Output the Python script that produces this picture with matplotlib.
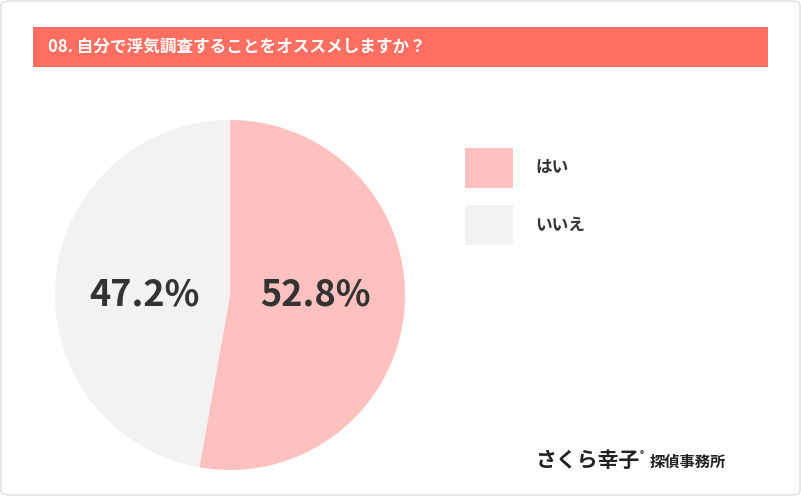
import matplotlib
matplotlib.use("Agg")
import matplotlib.pyplot as plt
from matplotlib.patches import Rectangle, FancyBboxPatch

plt.rcParams['font.family'] = ['Noto Sans CJK JP', 'DejaVu Sans']

title = "08. 自分で浮気調査することをオススメしますか？"
labels = ["はい", "いいえ"]
values = [52.8, 47.2]
colors = ["#FFC1BF", "#F2F2F2"]

W, H = 801, 496
fig = plt.figure(figsize=(W/100, H/100), dpi=100)
fig.patch.set_facecolor("white")

def px(x, y, w, h):
    return [x/W, 1-(y+h)/H, w/W, h/H]

fig.patches.append(FancyBboxPatch((1/W, 1/H), (W-2)/W, (H-2)/H, boxstyle="round,pad=0,rounding_size=0.01",
                                  transform=fig.transFigure, fill=False, edgecolor="#DDDDDD", lw=1))
fig.patches.append(Rectangle((33/W, 1-67/H), (768-33)/W, 40/H, transform=fig.transFigure,
                             facecolor="#FF6F61", edgecolor="none"))
fig.text(48/W, 1-47/H, title, color="white", fontsize=12, fontweight="bold", va="center")

ax = fig.add_axes(px(55, 120, 350, 350))
wedges, _ = ax.pie(values, colors=colors, startangle=90, counterclock=False,
                   wedgeprops=dict(linewidth=0))
ax.set_xlim(-1, 1); ax.set_ylim(-1, 1)
ax.set_aspect("equal")
ax.text(0.49, 0.0, f"{values[0]}%", ha="center", va="center", fontsize=26, fontweight="bold", color="#333333")
ax.text(-0.49, 0.0, f"{values[1]}%", ha="center", va="center", fontsize=26, fontweight="bold", color="#333333")

for i, (lab, c) in enumerate(zip(labels, colors)):
    y0 = 148 + i*57
    fig.patches.append(Rectangle((465/W, 1-(y0+40)/H), 48/W, 40/H, transform=fig.transFigure,
                                 facecolor=c, edgecolor="none"))
    fig.text(535/W, 1-(y0+20)/H, lab, fontsize=12, fontweight="bold", color="#333333", va="center")

fig.text(535/W, 1-460/H, "さくら幸子", fontsize=15, fontweight="bold", style="italic", color="#222222", va="center")
fig.text(640/W, 1-455/H, "®", fontsize=6, color="#222222", va="center")
fig.text(650/W, 1-462/H, "探偵事務所", fontsize=11, fontweight="bold", color="#222222", va="center")

fig.savefig("out.png", dpi=100)
